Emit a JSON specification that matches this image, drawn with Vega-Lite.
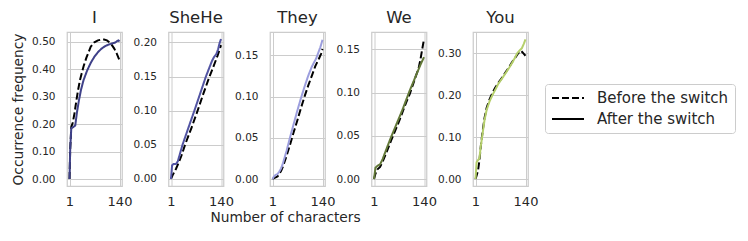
{
  "$schema": "https://vega.github.io/schema/vega-lite/v6.json",
  "padding": {"left": 10, "top": 8, "right": 5, "bottom": 0},
  "background": "white",
  "bounds": "flush",
  "spacing": 46.5,
  "datasets": {
    "d": [
      {"p":"I","s":"Before the switch","x":1,"y":0},
      {"p":"I","s":"Before the switch","x":3,"y":0.11},
      {"p":"I","s":"Before the switch","x":6,"y":0.19},
      {"p":"I","s":"Before the switch","x":10,"y":0.205},
      {"p":"I","s":"Before the switch","x":15,"y":0.24},
      {"p":"I","s":"Before the switch","x":20,"y":0.285},
      {"p":"I","s":"Before the switch","x":25,"y":0.325},
      {"p":"I","s":"Before the switch","x":30,"y":0.36},
      {"p":"I","s":"Before the switch","x":35,"y":0.385},
      {"p":"I","s":"Before the switch","x":40,"y":0.41},
      {"p":"I","s":"Before the switch","x":48,"y":0.442},
      {"p":"I","s":"Before the switch","x":55,"y":0.465},
      {"p":"I","s":"Before the switch","x":60,"y":0.482},
      {"p":"I","s":"Before the switch","x":70,"y":0.498},
      {"p":"I","s":"Before the switch","x":80,"y":0.505},
      {"p":"I","s":"Before the switch","x":90,"y":0.508},
      {"p":"I","s":"Before the switch","x":97,"y":0.508},
      {"p":"I","s":"Before the switch","x":105,"y":0.505},
      {"p":"I","s":"Before the switch","x":115,"y":0.495},
      {"p":"I","s":"Before the switch","x":125,"y":0.476},
      {"p":"I","s":"Before the switch","x":133,"y":0.455},
      {"p":"I","s":"Before the switch","x":140,"y":0.432},
      {"p":"I","s":"After the switch","x":1,"y":0},
      {"p":"I","s":"After the switch","x":3,"y":0.11},
      {"p":"I","s":"After the switch","x":6,"y":0.185},
      {"p":"I","s":"After the switch","x":12,"y":0.19},
      {"p":"I","s":"After the switch","x":17,"y":0.195},
      {"p":"I","s":"After the switch","x":22,"y":0.245},
      {"p":"I","s":"After the switch","x":27,"y":0.285},
      {"p":"I","s":"After the switch","x":33,"y":0.325},
      {"p":"I","s":"After the switch","x":40,"y":0.36},
      {"p":"I","s":"After the switch","x":50,"y":0.395},
      {"p":"I","s":"After the switch","x":60,"y":0.423},
      {"p":"I","s":"After the switch","x":70,"y":0.445},
      {"p":"I","s":"After the switch","x":80,"y":0.462},
      {"p":"I","s":"After the switch","x":90,"y":0.475},
      {"p":"I","s":"After the switch","x":100,"y":0.484},
      {"p":"I","s":"After the switch","x":110,"y":0.49},
      {"p":"I","s":"After the switch","x":120,"y":0.494},
      {"p":"I","s":"After the switch","x":128,"y":0.497},
      {"p":"I","s":"After the switch","x":134,"y":0.503},
      {"p":"I","s":"After the switch","x":137,"y":0.505},
      {"p":"I","s":"After the switch","x":140,"y":0.501},
      {"p":"SheHe","s":"Before the switch","x":1,"y":0},
      {"p":"SheHe","s":"Before the switch","x":5,"y":0.005},
      {"p":"SheHe","s":"Before the switch","x":10,"y":0.01},
      {"p":"SheHe","s":"Before the switch","x":15,"y":0.015},
      {"p":"SheHe","s":"Before the switch","x":20,"y":0.021},
      {"p":"SheHe","s":"Before the switch","x":30,"y":0.034},
      {"p":"SheHe","s":"Before the switch","x":40,"y":0.05},
      {"p":"SheHe","s":"Before the switch","x":58,"y":0.075},
      {"p":"SheHe","s":"Before the switch","x":75,"y":0.1},
      {"p":"SheHe","s":"Before the switch","x":91,"y":0.125},
      {"p":"SheHe","s":"Before the switch","x":108,"y":0.15},
      {"p":"SheHe","s":"Before the switch","x":120,"y":0.166},
      {"p":"SheHe","s":"Before the switch","x":130,"y":0.18},
      {"p":"SheHe","s":"Before the switch","x":140,"y":0.196},
      {"p":"SheHe","s":"After the switch","x":1,"y":0},
      {"p":"SheHe","s":"After the switch","x":4,"y":0.02},
      {"p":"SheHe","s":"After the switch","x":8,"y":0.022},
      {"p":"SheHe","s":"After the switch","x":15,"y":0.022},
      {"p":"SheHe","s":"After the switch","x":20,"y":0.026},
      {"p":"SheHe","s":"After the switch","x":33,"y":0.05},
      {"p":"SheHe","s":"After the switch","x":50,"y":0.076},
      {"p":"SheHe","s":"After the switch","x":66,"y":0.1},
      {"p":"SheHe","s":"After the switch","x":82,"y":0.125},
      {"p":"SheHe","s":"After the switch","x":98,"y":0.15},
      {"p":"SheHe","s":"After the switch","x":115,"y":0.173},
      {"p":"SheHe","s":"After the switch","x":120,"y":0.178},
      {"p":"SheHe","s":"After the switch","x":127,"y":0.183},
      {"p":"SheHe","s":"After the switch","x":132,"y":0.19},
      {"p":"SheHe","s":"After the switch","x":136,"y":0.199},
      {"p":"SheHe","s":"After the switch","x":140,"y":0.205},
      {"p":"They","s":"Before the switch","x":1,"y":0},
      {"p":"They","s":"Before the switch","x":5,"y":0.001},
      {"p":"They","s":"Before the switch","x":10,"y":0.002},
      {"p":"They","s":"Before the switch","x":15,"y":0.003},
      {"p":"They","s":"Before the switch","x":20,"y":0.006},
      {"p":"They","s":"Before the switch","x":25,"y":0.01},
      {"p":"They","s":"Before the switch","x":30,"y":0.015},
      {"p":"They","s":"Before the switch","x":40,"y":0.028},
      {"p":"They","s":"Before the switch","x":50,"y":0.042},
      {"p":"They","s":"Before the switch","x":60,"y":0.057},
      {"p":"They","s":"Before the switch","x":70,"y":0.071},
      {"p":"They","s":"Before the switch","x":80,"y":0.086},
      {"p":"They","s":"Before the switch","x":90,"y":0.1},
      {"p":"They","s":"Before the switch","x":100,"y":0.113},
      {"p":"They","s":"Before the switch","x":110,"y":0.125},
      {"p":"They","s":"Before the switch","x":120,"y":0.137},
      {"p":"They","s":"Before the switch","x":130,"y":0.146},
      {"p":"They","s":"Before the switch","x":136,"y":0.152},
      {"p":"They","s":"Before the switch","x":140,"y":0.158},
      {"p":"They","s":"After the switch","x":1,"y":0},
      {"p":"They","s":"After the switch","x":5,"y":0.003},
      {"p":"They","s":"After the switch","x":10,"y":0.005},
      {"p":"They","s":"After the switch","x":15,"y":0.006},
      {"p":"They","s":"After the switch","x":20,"y":0.009},
      {"p":"They","s":"After the switch","x":25,"y":0.013},
      {"p":"They","s":"After the switch","x":30,"y":0.019},
      {"p":"They","s":"After the switch","x":40,"y":0.034},
      {"p":"They","s":"After the switch","x":50,"y":0.051},
      {"p":"They","s":"After the switch","x":60,"y":0.067},
      {"p":"They","s":"After the switch","x":70,"y":0.083},
      {"p":"They","s":"After the switch","x":80,"y":0.098},
      {"p":"They","s":"After the switch","x":90,"y":0.112},
      {"p":"They","s":"After the switch","x":100,"y":0.125},
      {"p":"They","s":"After the switch","x":110,"y":0.136},
      {"p":"They","s":"After the switch","x":117,"y":0.142},
      {"p":"They","s":"After the switch","x":122,"y":0.146},
      {"p":"They","s":"After the switch","x":128,"y":0.153},
      {"p":"They","s":"After the switch","x":134,"y":0.16},
      {"p":"They","s":"After the switch","x":140,"y":0.169},
      {"p":"We","s":"Before the switch","x":1,"y":0},
      {"p":"We","s":"Before the switch","x":5,"y":0.006},
      {"p":"We","s":"Before the switch","x":10,"y":0.011},
      {"p":"We","s":"Before the switch","x":18,"y":0.014},
      {"p":"We","s":"Before the switch","x":25,"y":0.02},
      {"p":"We","s":"Before the switch","x":35,"y":0.03},
      {"p":"We","s":"Before the switch","x":50,"y":0.046},
      {"p":"We","s":"Before the switch","x":60,"y":0.056},
      {"p":"We","s":"Before the switch","x":70,"y":0.066},
      {"p":"We","s":"Before the switch","x":80,"y":0.077},
      {"p":"We","s":"Before the switch","x":90,"y":0.088},
      {"p":"We","s":"Before the switch","x":100,"y":0.098},
      {"p":"We","s":"Before the switch","x":110,"y":0.11},
      {"p":"We","s":"Before the switch","x":118,"y":0.12},
      {"p":"We","s":"Before the switch","x":125,"y":0.128},
      {"p":"We","s":"Before the switch","x":130,"y":0.138},
      {"p":"We","s":"Before the switch","x":135,"y":0.15},
      {"p":"We","s":"Before the switch","x":140,"y":0.162},
      {"p":"We","s":"After the switch","x":1,"y":0},
      {"p":"We","s":"After the switch","x":5,"y":0.013},
      {"p":"We","s":"After the switch","x":10,"y":0.015},
      {"p":"We","s":"After the switch","x":18,"y":0.017},
      {"p":"We","s":"After the switch","x":25,"y":0.023},
      {"p":"We","s":"After the switch","x":35,"y":0.034},
      {"p":"We","s":"After the switch","x":47,"y":0.047},
      {"p":"We","s":"After the switch","x":60,"y":0.06},
      {"p":"We","s":"After the switch","x":70,"y":0.07},
      {"p":"We","s":"After the switch","x":80,"y":0.08},
      {"p":"We","s":"After the switch","x":90,"y":0.091},
      {"p":"We","s":"After the switch","x":100,"y":0.102},
      {"p":"We","s":"After the switch","x":110,"y":0.112},
      {"p":"We","s":"After the switch","x":120,"y":0.122},
      {"p":"We","s":"After the switch","x":130,"y":0.132},
      {"p":"We","s":"After the switch","x":140,"y":0.141},
      {"p":"You","s":"Before the switch","x":1,"y":0},
      {"p":"You","s":"Before the switch","x":4,"y":0.008},
      {"p":"You","s":"Before the switch","x":8,"y":0.02},
      {"p":"You","s":"Before the switch","x":12,"y":0.045},
      {"p":"You","s":"Before the switch","x":16,"y":0.08},
      {"p":"You","s":"Before the switch","x":21,"y":0.115},
      {"p":"You","s":"Before the switch","x":26,"y":0.145},
      {"p":"You","s":"Before the switch","x":32,"y":0.17},
      {"p":"You","s":"Before the switch","x":40,"y":0.19},
      {"p":"You","s":"Before the switch","x":48,"y":0.205},
      {"p":"You","s":"Before the switch","x":56,"y":0.218},
      {"p":"You","s":"Before the switch","x":65,"y":0.23},
      {"p":"You","s":"Before the switch","x":75,"y":0.242},
      {"p":"You","s":"Before the switch","x":85,"y":0.255},
      {"p":"You","s":"Before the switch","x":95,"y":0.268},
      {"p":"You","s":"Before the switch","x":105,"y":0.282},
      {"p":"You","s":"Before the switch","x":112,"y":0.29},
      {"p":"You","s":"Before the switch","x":118,"y":0.298},
      {"p":"You","s":"Before the switch","x":122,"y":0.302},
      {"p":"You","s":"Before the switch","x":127,"y":0.306},
      {"p":"You","s":"Before the switch","x":132,"y":0.302},
      {"p":"You","s":"Before the switch","x":136,"y":0.298},
      {"p":"You","s":"Before the switch","x":140,"y":0.294},
      {"p":"You","s":"After the switch","x":1,"y":0},
      {"p":"You","s":"After the switch","x":4,"y":0.04},
      {"p":"You","s":"After the switch","x":8,"y":0.045},
      {"p":"You","s":"After the switch","x":12,"y":0.05},
      {"p":"You","s":"After the switch","x":16,"y":0.08},
      {"p":"You","s":"After the switch","x":21,"y":0.11},
      {"p":"You","s":"After the switch","x":26,"y":0.14},
      {"p":"You","s":"After the switch","x":32,"y":0.165},
      {"p":"You","s":"After the switch","x":40,"y":0.185},
      {"p":"You","s":"After the switch","x":48,"y":0.2},
      {"p":"You","s":"After the switch","x":56,"y":0.213},
      {"p":"You","s":"After the switch","x":65,"y":0.228},
      {"p":"You","s":"After the switch","x":75,"y":0.24},
      {"p":"You","s":"After the switch","x":85,"y":0.253},
      {"p":"You","s":"After the switch","x":95,"y":0.266},
      {"p":"You","s":"After the switch","x":105,"y":0.28},
      {"p":"You","s":"After the switch","x":117,"y":0.3},
      {"p":"You","s":"After the switch","x":125,"y":0.308},
      {"p":"You","s":"After the switch","x":130,"y":0.312},
      {"p":"You","s":"After the switch","x":135,"y":0.322},
      {"p":"You","s":"After the switch","x":140,"y":0.333}
    ]
  },
  "data": {"name": "d"},
  "hconcat": [
    {
      "width": 55, "height": 154,
      "title": {"text": "I"},
      "transform": [{"filter": "datum.p === 'I'"}],
      "encoding": {
        "x": {"field": "x", "type": "quantitative", "scale": {"domain": [-5.95, 146.95], "nice": false, "zero": false}, "axis": {"values": [1, 140], "title": null}},
        "y": {"field": "y", "type": "quantitative", "scale": {"domain": [-0.0255, 0.5355], "nice": false, "zero": false}, "axis": {"format": ".2f", "tickCount": 6, "title": "Occurrence frequency"}},
        "strokeDash": {"field": "s", "type": "nominal", "scale": {"domain": ["Before the switch", "After the switch"], "range": [[7, 3], [1, 0]]}, "legend": {"title": null, "orient": "none", "legendX": 478, "legendY": 52, "symbolStrokeColor": "black"}}
      },
      "layer": [
        {"transform": [{"filter": "datum.s === 'Before the switch'"}], "mark": {"type": "line", "color": "black", "strokeWidth": 2}},
        {"transform": [{"filter": "datum.s === 'After the switch'"}], "mark": {"type": "line", "color": "#3f4189", "strokeWidth": 2}}
      ]
    },
    {
      "width": 55, "height": 154,
      "title": {"text": "SheHe"},
      "transform": [{"filter": "datum.p === 'SheHe'"}],
      "encoding": {
        "x": {"field": "x", "type": "quantitative", "scale": {"domain": [-5.95, 146.95], "nice": false, "zero": false}, "axis": {"values": [1, 140], "title": null}},
        "y": {"field": "y", "type": "quantitative", "scale": {"domain": [-0.0103, 0.2153], "nice": false, "zero": false}, "axis": {"format": ".2f", "tickCount": 5, "title": null}},
        "strokeDash": {"field": "s", "type": "nominal", "scale": {"domain": ["Before the switch", "After the switch"], "range": [[7, 3], [1, 0]]}, "legend": {"title": null, "orient": "none", "legendX": 478, "legendY": 52, "symbolStrokeColor": "black"}}
      },
      "layer": [
        {"transform": [{"filter": "datum.s === 'Before the switch'"}], "mark": {"type": "line", "color": "black", "strokeWidth": 2}},
        {"transform": [{"filter": "datum.s === 'After the switch'"}], "mark": {"type": "line", "color": "#5254a3", "strokeWidth": 2}}
      ]
    },
    {
      "width": 55, "height": 154,
      "title": {"text": "They"},
      "transform": [{"filter": "datum.p === 'They'"}],
      "encoding": {
        "x": {"field": "x", "type": "quantitative", "scale": {"domain": [-5.95, 146.95], "nice": false, "zero": false}, "axis": {"values": [1, 140], "title": "Number of characters", "titleX": 15, "titleAlign": "center", "titlePadding": 2}},
        "y": {"field": "y", "type": "quantitative", "scale": {"domain": [-0.0085, 0.1785], "nice": false, "zero": false}, "axis": {"format": ".2f", "tickCount": 5, "title": null}},
        "strokeDash": {"field": "s", "type": "nominal", "scale": {"domain": ["Before the switch", "After the switch"], "range": [[7, 3], [1, 0]]}, "legend": {"title": null, "orient": "none", "legendX": 478, "legendY": 52, "symbolStrokeColor": "black"}}
      },
      "layer": [
        {"transform": [{"filter": "datum.s === 'Before the switch'"}], "mark": {"type": "line", "color": "black", "strokeWidth": 2}},
        {"transform": [{"filter": "datum.s === 'After the switch'"}], "mark": {"type": "line", "color": "#9c9ede", "strokeWidth": 2}}
      ]
    },
    {
      "width": 55, "height": 154,
      "title": {"text": "We"},
      "transform": [{"filter": "datum.p === 'We'"}],
      "encoding": {
        "x": {"field": "x", "type": "quantitative", "scale": {"domain": [-5.95, 146.95], "nice": false, "zero": false}, "axis": {"values": [1, 140], "title": null}},
        "y": {"field": "y", "type": "quantitative", "scale": {"domain": [-0.0081, 0.1701], "nice": false, "zero": false}, "axis": {"format": ".2f", "tickCount": 5, "title": null}},
        "strokeDash": {"field": "s", "type": "nominal", "scale": {"domain": ["Before the switch", "After the switch"], "range": [[7, 3], [1, 0]]}, "legend": {"title": null, "orient": "none", "legendX": 478, "legendY": 52, "symbolStrokeColor": "black"}}
      },
      "layer": [
        {"transform": [{"filter": "datum.s === 'Before the switch'"}], "mark": {"type": "line", "color": "black", "strokeWidth": 2}},
        {"transform": [{"filter": "datum.s === 'After the switch'"}], "mark": {"type": "line", "color": "#637939", "strokeWidth": 2}}
      ]
    },
    {
      "width": 55, "height": 154,
      "title": {"text": "You"},
      "transform": [{"filter": "datum.p === 'You'"}],
      "encoding": {
        "x": {"field": "x", "type": "quantitative", "scale": {"domain": [-5.95, 146.95], "nice": false, "zero": false}, "axis": {"values": [1, 140], "title": null}},
        "y": {"field": "y", "type": "quantitative", "scale": {"domain": [-0.0167, 0.3507], "nice": false, "zero": false}, "axis": {"format": ".2f", "tickCount": 5, "title": null}},
        "strokeDash": {"field": "s", "type": "nominal", "scale": {"domain": ["Before the switch", "After the switch"], "range": [[7, 3], [1, 0]]}, "legend": {"title": null, "orient": "none", "legendX": 478, "legendY": 52, "symbolStrokeColor": "black"}}
      },
      "layer": [
        {"transform": [{"filter": "datum.s === 'Before the switch'"}], "mark": {"type": "line", "color": "black", "strokeWidth": 2}},
        {"transform": [{"filter": "datum.s === 'After the switch'"}], "mark": {"type": "line", "color": "#b5cf6b", "strokeWidth": 2}}
      ]
    }
  ],
  "config": {
    "font": "DejaVu Sans",
    "view": {"stroke": "#cccccc", "strokeWidth": 1.25},
    "title": {"fontSize": 16.5, "fontWeight": "normal", "color": "#262626", "offset": 6, "font": "DejaVu Sans"},
    "axis": {"domain": false, "ticks": false, "grid": true, "gridColor": "#cccccc", "gridWidth": 1, "labelColor": "#262626", "titleColor": "#262626", "labelFont": "DejaVu Sans", "titleFont": "DejaVu Sans", "titleFontWeight": "normal", "titleFontSize": 13.75},
    "axisX": {"labelFontSize": 13, "labelPadding": 9},
    "axisY": {"labelFontSize": 10.5, "labelPadding": 12, "titlePadding": 6},
    "legend": {"strokeColor": "#cccccc", "cornerRadius": 3, "padding": 6, "labelFontSize": 15, "labelColor": "#262626", "labelFont": "DejaVu Sans", "symbolType": "stroke", "symbolSize": 1024, "symbolStrokeWidth": 2, "labelOffset": 12, "rowPadding": 5, "clipHeight": 16}
  }
}
